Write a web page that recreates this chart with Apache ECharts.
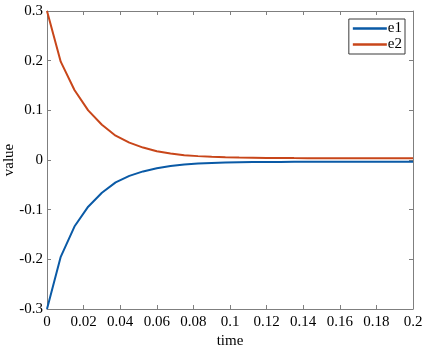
<!DOCTYPE html>
<html lang="en">
<head>
    <meta charset="UTF-8">
    <title>e1 e2 vs time</title>
    <script src="https://cdn.jsdelivr.net/npm/echarts@6/dist/echarts.min.js"></script>
    <style>
        html, body, #chart {
            width: 425px;
            height: 349px;
            padding: 0;
            margin: 0;
            background: #fff;
        }
    </style>
</head>
<body>
<div id="chart"></div>
<script>
    var time = [0, 0.0075, 0.015, 0.0225, 0.03, 0.0375, 0.045, 0.0525, 0.06, 0.0675,
        0.075, 0.0825, 0.09, 0.0975, 0.105, 0.1125, 0.12, 0.1275, 0.135, 0.1425,
        0.15, 0.1575, 0.165, 0.1725, 0.18, 0.1875, 0.195, 0.2];
    var e1 = [-0.3, -0.195, -0.134, -0.094, -0.066, -0.045, -0.032, -0.023, -0.0165, -0.012,
        -0.009, -0.0072, -0.006, -0.0052, -0.0046, -0.0042, -0.004, -0.0038, -0.0037, -0.0036,
        -0.0036, -0.0035, -0.0035, -0.0035, -0.0035, -0.0035, -0.0035, -0.0035];
    var e2 = [0.3, 0.198, 0.141, 0.1, 0.071, 0.049, 0.035, 0.025, 0.0175, 0.013,
        0.0098, 0.0078, 0.0065, 0.0056, 0.005, 0.0046, 0.0042, 0.004, 0.0038, 0.0037,
        0.0036, 0.0036, 0.0035, 0.0035, 0.0035, 0.0035, 0.0035, 0.0035];

    function pairs(ys) {
        return time.map(function (t, i) {
            return [t, ys[i]];
        });
    }

    var font = "Liberation Serif";
    var axisGray = "#7f7f7f";

    var chart = echarts.init(document.getElementById("chart"));
    chart.setOption({
        animation: false,
        grid: {left: 47, right: 12, top: 11, bottom: 40, containLabel: false, outerBoundsMode: "none"},
        legend: {
            right: 20,
            top: 19,
            orient: "vertical",
            backgroundColor: "#fff",
            borderColor: "#3a3a3a",
            borderWidth: 1,
            padding: [2, 3, 2, 4],
            itemGap: 1,
            itemWidth: 34,
            itemHeight: 2.5,
            icon: "rect",
            textStyle: {fontFamily: font, fontSize: 15, color: "#000", padding: [0, 0, 0, -4]},
            data: ["e1", "e2"]
        },
        xAxis: [{
            type: "value",
            min: 0,
            max: 0.2,
            interval: 0.02,
            name: "time",
            nameLocation: "middle",
            nameGap: 25,
            nameMoveOverlap: false,
            nameTextStyle: {fontFamily: font, fontSize: 15, color: "#000"},
            axisLine: {onZero: false, lineStyle: {color: axisGray, width: 1}},
            axisTick: {inside: true, length: 4, lineStyle: {color: axisGray}},
            axisLabel: {fontFamily: font, fontSize: 15, color: "#000", margin: 6},
            splitLine: {show: false}
        }, {
            type: "value",
            position: "top",
            min: 0,
            max: 0.2,
            interval: 0.02,
            axisLine: {onZero: false, lineStyle: {color: axisGray, width: 1}},
            axisTick: {inside: true, length: 4, lineStyle: {color: axisGray}},
            axisLabel: {show: false},
            splitLine: {show: false}
        }],
        yAxis: [{
            type: "value",
            min: -0.3,
            max: 0.3,
            interval: 0.1,
            name: "value",
            nameLocation: "middle",
            nameGap: 30,
            nameMoveOverlap: false,
            nameTextStyle: {fontFamily: font, fontSize: 15, color: "#000"},
            axisLine: {show: true, onZero: false, lineStyle: {color: axisGray, width: 1}},
            axisTick: {show: true, inside: true, length: 4, lineStyle: {color: axisGray}},
            axisLabel: {fontFamily: font, fontSize: 15, color: "#000", margin: 4},
            splitLine: {show: false}
        }, {
            type: "value",
            position: "right",
            min: -0.3,
            max: 0.3,
            interval: 0.1,
            axisLine: {show: true, onZero: false, lineStyle: {color: axisGray, width: 1}},
            axisTick: {show: true, inside: true, length: 4, lineStyle: {color: axisGray}},
            axisLabel: {show: false},
            splitLine: {show: false}
        }],
        series: [{
            name: "e1",
            type: "line",
            data: pairs(e1),
            showSymbol: false,
            symbol: "none",
            lineStyle: {color: "#0a5aa6", width: 2},
            itemStyle: {color: "#0a5aa6"}
        }, {
            name: "e2",
            type: "line",
            data: pairs(e2),
            showSymbol: false,
            symbol: "none",
            lineStyle: {color: "#c8461a", width: 2},
            itemStyle: {color: "#c8461a"}
        }]
    });
</script>
</body>
</html>
